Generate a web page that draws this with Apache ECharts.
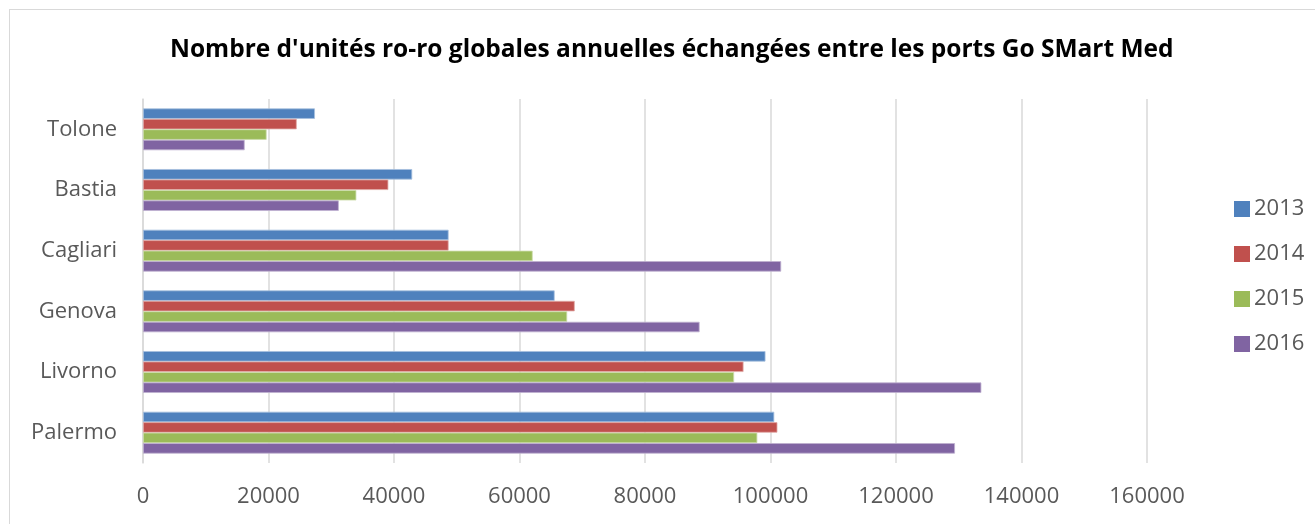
<!DOCTYPE html>
<html>
<head>
<meta charset="utf-8">
<script src="https://cdn.jsdelivr.net/npm/echarts@6/dist/echarts.min.js"></script>
<style>
html,body{margin:0;padding:0;background:#fff;}
#frame{position:absolute;left:9px;top:9px;width:1320px;height:530px;border:1px solid #d9d9d9;box-sizing:border-box;}
#chart{position:absolute;left:0;top:0;width:1315px;height:524px;}
</style>
</head>
<body>
<div id="frame"></div>
<div id="chart"></div>
<script>
const categories = ['Tolone', 'Bastia', 'Cagliari', 'Genova', 'Livorno', 'Palermo'];
const years = ['2013', '2014', '2015', '2016'];
const values2013 = [27400, 42900, 48700, 65600, 99200, 100600];
const values2014 = [24500, 39100, 48700, 68800, 95700, 101100];
const values2015 = [19700, 34000, 62100, 67600, 94200, 97900];
const values2016 = [16200, 31200, 101700, 88700, 133600, 129400];
const xTicks = [0, 20000, 40000, 60000, 80000, 100000, 120000, 140000, 160000];
const colors = ['#4F81BD', '#C0504D', '#9BBB59', '#8064A2'];
const borders = ['#a7c0de', '#e0a8a6', '#cddcac', '#bfb1d0'];
const seriesValues = [values2013, values2014, values2015, values2016];

const font = "'Open Sans', 'Liberation Sans', sans-serif";
const chart = echarts.init(document.getElementById('chart'));
chart.setOption({
  animation: false,
  title: {
    text: "Nombre d'unités ro-ro globales annuelles échangées entre les ports Go SMart Med",
    left: 165, top: 33,
    textStyle: {fontFamily: font, fontWeight: 'bold', fontSize: 24.5, color: '#000'}
  },
  legend: {
    orient: 'vertical', left: 1229, top: 193, itemGap: 23,
    itemWidth: 16, itemHeight: 16, icon: 'rect',
    itemStyle: {borderWidth: 0},
    textStyle: {fontFamily: font, fontSize: 22, lineHeight: 22, color: '#595959', padding: [0,0,0,-1]},
    data: years
  },
  grid: {left: 143, right: 168, top: 99, bottom: 61, containLabel: false},
  xAxis: {
    type: 'value', min: 0, max: xTicks[xTicks.length-1], interval: 20000,
    axisLine: {show: false}, axisTick: {show: false},
    splitLine: {lineStyle: {color: '#d9d9d9', width: 1.5}},
    axisLabel: {fontFamily: font, fontSize: 22, color: '#595959', margin: 23,
      formatter: v => String(v)}
  },
  yAxis: {
    type: 'category', data: categories, inverse: true,
    axisLine: {lineStyle: {color: '#d9d9d9', width: 1.5}}, axisTick: {show: false},
    axisLabel: {fontFamily: font, fontSize: 22, color: '#595959', margin: 26}
  },
  series: years.map((y, i) => ({
    name: y, type: 'bar', data: seriesValues[i],
    barGap: '0%', barCategoryGap: '31%',
    itemStyle: {color: colors[i], borderColor: borders[i], borderWidth: 0.8}
  }))
});
</script>
</body>
</html>
